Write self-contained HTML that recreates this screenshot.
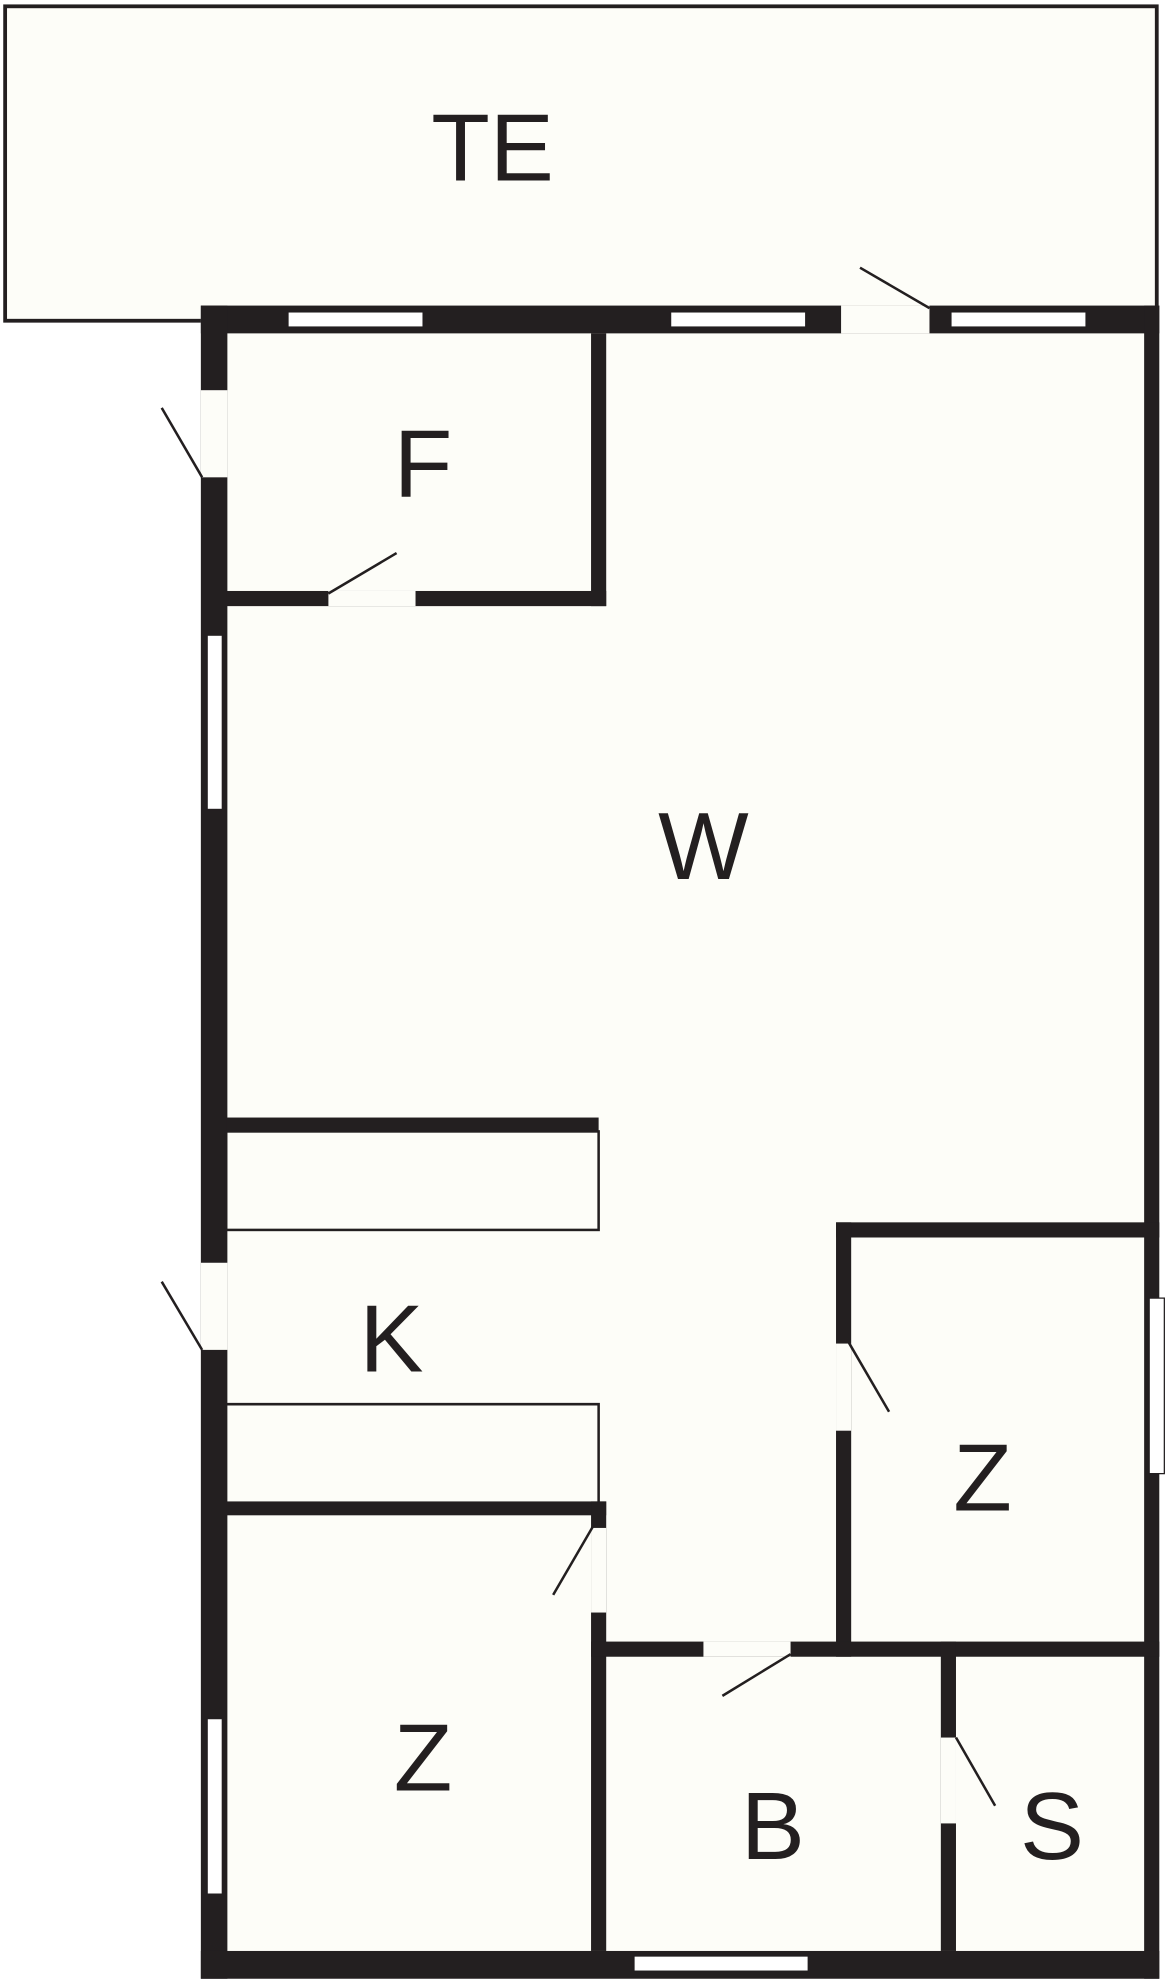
<!DOCTYPE html>
<html><head><meta charset="utf-8">
<style>
html,body{margin:0;padding:0;background:#fff;}
svg{display:block;}
text{font-family:"Liberation Sans",Arial,sans-serif;font-size:76px;fill:#231f20;text-anchor:middle;}
</style></head><body>
<svg width="1172" height="1980" viewBox="0 0 928 1568" xmlns="http://www.w3.org/2000/svg">
<rect x="0" y="0" width="928" height="1568" fill="#ffffff"/>
<!-- Terrace -->
<rect x="4" y="5" width="912" height="249" fill="#fdfdf8" stroke="#231f20" stroke-width="3"/>
<!-- interior floor -->
<rect x="159" y="242" width="759" height="1325" fill="#fdfdf8"/>
<g fill="#231f20">
<!-- outer walls -->
<rect x="159" y="242" width="759" height="22"/>
<rect x="159" y="242" width="21" height="1325"/>
<rect x="906" y="242" width="12" height="1325"/>
<rect x="159" y="1545" width="759" height="22"/>
<!-- F room -->
<rect x="468" y="264" width="12" height="216"/>
<rect x="179" y="468" width="301" height="12"/>
<!-- kitchen -->
<rect x="179" y="885" width="295" height="11"/>
<rect x="179" y="1189" width="301" height="11"/>
<rect x="468" y="1189" width="12" height="356"/>
<!-- right Z -->
<rect x="662" y="968" width="256" height="12"/>
<rect x="662" y="968" width="12" height="344"/>
<rect x="468" y="1300" width="450" height="12"/>
<rect x="745" y="1300" width="12" height="245"/>
</g>
<g fill="none" stroke="#231f20" stroke-width="2">
<rect x="179" y="896" width="295" height="78"/>
<polyline points="179,1112 474,1112 474,1190"/>
</g>
<!-- windows -->
<g fill="#fff" stroke="#231f20" stroke-width="1">
<rect x="228" y="247" width="107" height="12"/>
<rect x="531" y="247" width="107" height="12"/>
<rect x="753" y="247" width="107" height="12"/>
<rect x="164" y="503" width="12" height="138"/>
<rect x="164" y="1361" width="12" height="139"/>
<rect x="910" y="1028" width="12" height="139"/>
<rect x="502" y="1549" width="138" height="12"/>
</g>
<!-- door gaps -->
<g fill="#fdfdf8">
<rect x="666" y="242" width="70" height="22"/>
<rect x="159" y="309" width="21" height="69"/>
<rect x="260" y="468" width="69" height="12"/>
<rect x="159" y="1000" width="21" height="69"/>
<rect x="468" y="1210" width="12" height="67"/>
<rect x="662" y="1064" width="12" height="69"/>
<rect x="557" y="1300" width="69" height="12"/>
<rect x="745" y="1376" width="12" height="68"/>
</g>
<!-- door leaves -->
<g stroke="#231f20" stroke-width="2">
<line x1="736" y1="244" x2="681" y2="212"/>
<line x1="160" y1="378" x2="128" y2="323"/>
<line x1="260" y1="470" x2="314" y2="438"/>
<line x1="160" y1="1069" x2="128" y2="1015"/>
<line x1="470" y1="1208" x2="438" y2="1263"/>
<line x1="672" y1="1063" x2="704" y2="1118"/>
<line x1="626" y1="1310" x2="572" y2="1343"/>
<line x1="757" y1="1376" x2="788" y2="1430"/>
</g>
<!-- labels -->
<text x="390" y="143">TE</text>
<text x="335" y="393">F</text>
<text x="557" y="696">W</text>
<text x="310" y="1086">K</text>
<text x="778" y="1196">Z</text>
<text x="335" y="1418">Z</text>
<text x="612" y="1472">B</text>
<text x="833" y="1472">S</text>
</svg>
</body></html>
